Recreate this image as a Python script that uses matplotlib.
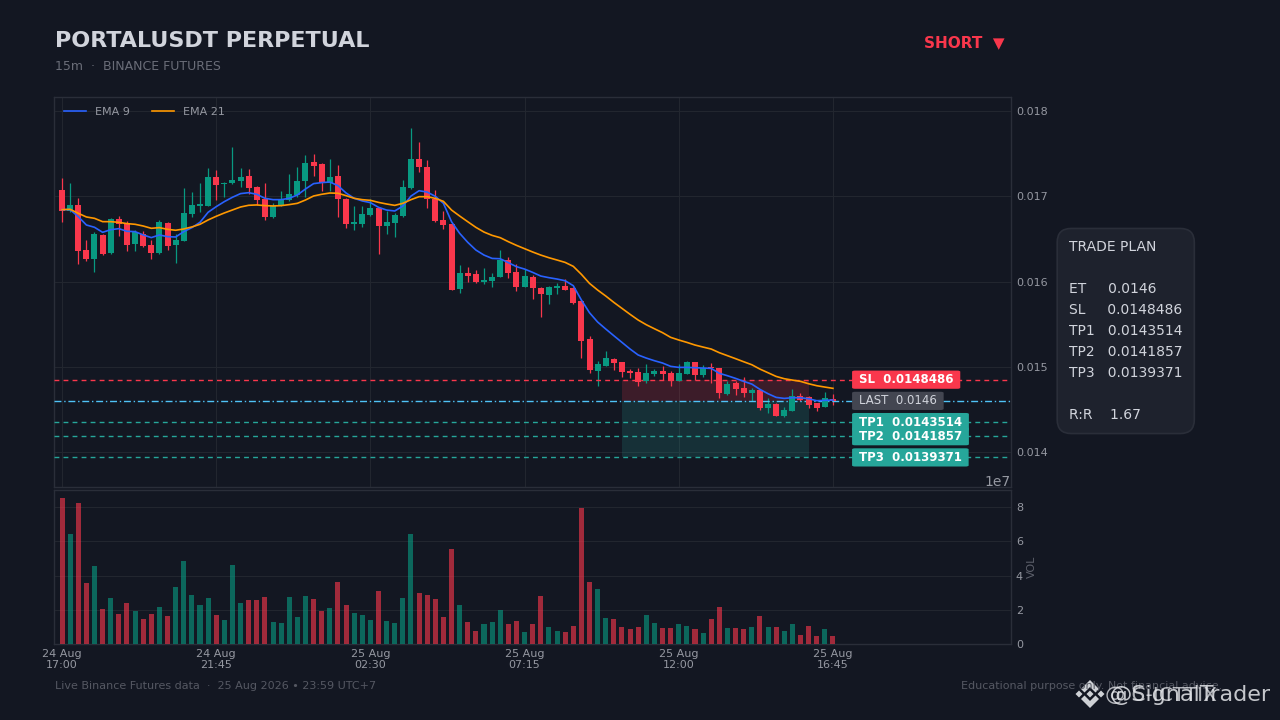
import matplotlib
matplotlib.use("Agg")
import matplotlib.pyplot as plt
from matplotlib.patches import Polygon

# candle values, one entry per 15m bar
opens = [0.017074, 0.016831, 0.016898, 0.016370, 0.016264, 0.016546, 0.016335, 0.016734, 0.016675, 0.016440,
         0.016558, 0.016428, 0.016335, 0.016687, 0.016428, 0.016475, 0.016792, 0.016886, 0.016886, 0.017226,
         0.017144, 0.017152, 0.017179, 0.017238, 0.017109, 0.016968, 0.016757, 0.016898, 0.016956, 0.017015,
         0.017179, 0.017402, 0.017379, 0.017156, 0.017238, 0.016968, 0.016675, 0.016675, 0.016780, 0.016862,
         0.016651, 0.016686, 0.016768, 0.017096, 0.017437, 0.017343, 0.016967, 0.016721, 0.016674, 0.015912,
         0.016099, 0.016088, 0.015994, 0.016005, 0.016052, 0.016252, 0.016111, 0.015935, 0.016052, 0.015923,
         0.015841, 0.015923, 0.015947, 0.015923, 0.015771, 0.015325, 0.014950, 0.015009, 0.015091, 0.015055,
         0.014950, 0.014938, 0.014833, 0.014915, 0.014950, 0.014926, 0.014833, 0.014915, 0.015055, 0.014903,
         0.014993, 0.014985, 0.014680, 0.014809, 0.014750, 0.014692, 0.014727, 0.014516, 0.014563, 0.014422,
         0.014481, 0.014657, 0.014645, 0.014575, 0.014528, 0.014621]
highs = [0.017218, 0.017152, 0.016976, 0.016483, 0.016585, 0.016554, 0.016749, 0.016765, 0.016710, 0.016604,
         0.016593, 0.016483, 0.016718, 0.016702, 0.016554, 0.017093, 0.017046, 0.017152, 0.017336, 0.017312,
         0.017171, 0.017574, 0.017336, 0.017324, 0.017117, 0.017152, 0.016925, 0.017066, 0.017257, 0.017347,
         0.017480, 0.017500, 0.017385, 0.017433, 0.017363, 0.016975, 0.016890, 0.016890, 0.016968, 0.016878,
         0.016827, 0.016799, 0.017186, 0.017800, 0.017640, 0.017425, 0.017069, 0.016830, 0.016680, 0.016197,
         0.016174, 0.016138, 0.016162, 0.016103, 0.016373, 0.016283, 0.016205, 0.016146, 0.016072, 0.015931,
         0.015951, 0.015986, 0.016033, 0.015930, 0.015780, 0.015364, 0.015071, 0.015188, 0.015098, 0.015060,
         0.014969, 0.014985, 0.015036, 0.014977, 0.015012, 0.014950, 0.015036, 0.015071, 0.015060, 0.015016,
         0.015048, 0.014990, 0.014833, 0.014836, 0.014883, 0.014754, 0.014730, 0.014637, 0.014575, 0.014531,
         0.014743, 0.014696, 0.014657, 0.014580, 0.014707, 0.014680]
lows = [0.016694, 0.016812, 0.016202, 0.016241, 0.016108, 0.016310, 0.016319, 0.016530, 0.016358, 0.016358,
        0.016401, 0.016260, 0.016327, 0.016370, 0.016213, 0.016470, 0.016757, 0.016819, 0.016880, 0.016952,
        0.016988, 0.017148, 0.017105, 0.017023, 0.016898, 0.016722, 0.016745, 0.016890, 0.016950, 0.016995,
        0.016995, 0.017242, 0.017062, 0.017062, 0.016761, 0.016624, 0.016601, 0.016636, 0.016769, 0.016319,
        0.016553, 0.016518, 0.016760, 0.017090, 0.017288, 0.016858, 0.016698, 0.016619, 0.015895, 0.015861,
        0.015998, 0.015986, 0.015974, 0.015931, 0.016048, 0.016045, 0.015884, 0.015930, 0.015790, 0.015579,
        0.015732, 0.015849, 0.015896, 0.015740, 0.015106, 0.014923, 0.014770, 0.015005, 0.014958, 0.014876,
        0.014864, 0.014778, 0.014805, 0.014891, 0.014844, 0.014778, 0.014830, 0.014910, 0.014844, 0.014880,
        0.014805, 0.014637, 0.014668, 0.014672, 0.014649, 0.014594, 0.014492, 0.014461, 0.014418, 0.014414,
        0.014477, 0.014594, 0.014516, 0.014477, 0.014524, 0.014551]
closes = [0.016831, 0.016898, 0.016358, 0.016264, 0.016558, 0.016319, 0.016734, 0.016675, 0.016428, 0.016585,
          0.016417, 0.016335, 0.016698, 0.016417, 0.016487, 0.016804, 0.016898, 0.016909, 0.017226, 0.017132,
          0.017160, 0.017191, 0.017226, 0.017097, 0.016952, 0.016757, 0.016886, 0.016956, 0.017027, 0.017179,
          0.017390, 0.017355, 0.017156, 0.017226, 0.016968, 0.016675, 0.016698, 0.016792, 0.016862, 0.016651,
          0.016698, 0.016780, 0.017108, 0.017437, 0.017343, 0.016967, 0.016709, 0.016662, 0.015900, 0.016099,
          0.016064, 0.015994, 0.016017, 0.016052, 0.016252, 0.016099, 0.015935, 0.016064, 0.015923, 0.015853,
          0.015935, 0.015947, 0.015900, 0.015747, 0.015302, 0.014962, 0.015032, 0.015102, 0.015044, 0.014938,
          0.014926, 0.014821, 0.014926, 0.014950, 0.014915, 0.014833, 0.014926, 0.015055, 0.014903, 0.014985,
          0.014981, 0.014692, 0.014797, 0.014739, 0.014692, 0.014727, 0.014516, 0.014563, 0.014422, 0.014492,
          0.014657, 0.014610, 0.014551, 0.014516, 0.014633, 0.014600]
volumes = [8.54, 6.43, 8.25, 3.57, 4.56, 2.05, 2.69, 1.75, 2.40, 1.95, 1.46, 1.75, 2.16, 1.64, 3.33, 4.85,
           2.87, 2.28, 2.69, 1.70, 1.40, 4.62, 2.40, 2.57, 2.57, 2.75, 1.29, 1.23, 2.75, 1.58, 2.81, 2.63,
           1.93, 2.11, 3.63, 2.28, 1.81, 1.70, 1.40, 3.10, 1.35, 1.23, 2.69, 6.43, 2.98, 2.87, 2.63, 1.58,
           5.56, 2.28, 1.29, 0.76, 1.17, 1.29, 1.97, 1.17, 1.35, 0.70, 1.17, 2.81, 0.99, 0.76, 0.70, 1.05,
           7.95, 3.63, 3.22, 1.52, 1.46, 0.99, 0.88, 0.99, 1.70, 1.23, 0.94, 0.94, 1.17, 1.05, 0.88, 0.64,
           1.46, 2.16, 0.94, 0.94, 0.88, 0.99, 1.64, 0.99, 0.99, 0.76, 1.17, 0.53, 1.05, 0.47, 0.88, 0.47]
ema9 = [0.016843, 0.016843, 0.016761, 0.016663, 0.016636, 0.016577, 0.016608, 0.016620, 0.016589, 0.016585,
        0.016546, 0.016515, 0.016546, 0.016526, 0.016522, 0.016585, 0.016632, 0.016694, 0.016812, 0.016878,
        0.016937, 0.016988, 0.017031, 0.017042, 0.017023, 0.016976, 0.016960, 0.016960, 0.016976, 0.017015,
        0.017085, 0.017148, 0.017160, 0.017167, 0.017125, 0.017038, 0.016976, 0.016945, 0.016925, 0.016870,
        0.016838, 0.016827, 0.016885, 0.017002, 0.017065, 0.017049, 0.016999, 0.016917, 0.016701, 0.016565,
        0.016459, 0.016369, 0.016310, 0.016271, 0.016267, 0.016221, 0.016174, 0.016146, 0.016107, 0.016064,
        0.016045, 0.016029, 0.016009, 0.015951, 0.015783, 0.015634, 0.015525, 0.015443, 0.015364, 0.015286,
        0.015208, 0.015138, 0.015102, 0.015071, 0.015044, 0.015005, 0.014993, 0.014993, 0.014989, 0.014985,
        0.014981, 0.014923, 0.014895, 0.014864, 0.014829, 0.014797, 0.014735, 0.014684, 0.014641, 0.014629,
        0.014637, 0.014637, 0.014625, 0.014602, 0.014606, 0.014610]
ema21 = [0.016843, 0.016847, 0.016800, 0.016757, 0.016741, 0.016702, 0.016702, 0.016694, 0.016679, 0.016671,
         0.016651, 0.016624, 0.016632, 0.016612, 0.016601, 0.016616, 0.016640, 0.016671, 0.016722, 0.016765,
         0.016804, 0.016839, 0.016874, 0.016894, 0.016898, 0.016890, 0.016886, 0.016890, 0.016902, 0.016917,
         0.016956, 0.017003, 0.017023, 0.017038, 0.017035, 0.017007, 0.016976, 0.016960, 0.016952, 0.016928,
         0.016909, 0.016893, 0.016917, 0.016960, 0.016995, 0.016995, 0.016975, 0.016940, 0.016838, 0.016768,
         0.016701, 0.016635, 0.016580, 0.016541, 0.016514, 0.016467, 0.016424, 0.016385, 0.016346, 0.016310,
         0.016279, 0.016252, 0.016224, 0.016178, 0.016084, 0.015978, 0.015900, 0.015830, 0.015755, 0.015685,
         0.015615, 0.015548, 0.015493, 0.015446, 0.015400, 0.015345, 0.015314, 0.015286, 0.015255, 0.015231,
         0.015208, 0.015165, 0.015130, 0.015095, 0.015059, 0.015024, 0.014973, 0.014930, 0.014887, 0.014860,
         0.014844, 0.014829, 0.014801, 0.014778, 0.014762, 0.014747]

tick_idx = [0, 19, 38, 57, 76, 95]
tick_labels = ["24 Aug\n17:00", "24 Aug\n21:45", "25 Aug\n02:30", "25 Aug\n07:15", "25 Aug\n12:00", "25 Aug\n16:45"]
price_ticks = [0.014, 0.015, 0.016, 0.017, 0.018]
vol_ticks = [0, 2, 4, 6, 8]

entry = 0.0146
sl = 0.0148486
tp1 = 0.0143514
tp2 = 0.0141857
tp3 = 0.0139371
zone_start = 69
zone_end = 92

BG = "#131722"
GRID = "#22262f"
SPINE = "#2a2e39"
TEXT = "#d1d4dc"
MUTED = "#9598a1"
GREEN = "#089981"
RED = "#f9374c"
TP_GREEN = "#26a69a"

W, H = 1280, 720
fig = plt.figure(figsize=(12.8, 7.2), dpi=100, facecolor=BG)

# layout in pixels
ax = fig.add_axes([54 / W, 1 - 487 / H, 957 / W, 390 / H], facecolor=BG)
ax_v = fig.add_axes([54 / W, 1 - 644 / H, 957 / W, 154 / H], facecolor=BG)

n = len(closes)
xs = list(range(n))
colors = [GREEN if closes[i] >= opens[i] else RED for i in xs]

# candles
ax.vlines(xs, lows, highs, colors=colors, linewidth=0.9, zorder=3)
ax.bar(xs, [abs(closes[i] - opens[i]) for i in xs], bottom=[min(opens[i], closes[i]) for i in xs],
       width=0.74, color=colors, zorder=4)
ax.plot(xs, ema9, color="#2962ff", linewidth=1.2, label="EMA 9", zorder=5)
ax.plot(xs, ema21, color="#ff9800", linewidth=1.2, label="EMA 21", zorder=5)

# trade zones
ax.fill_between([zone_start, zone_end], entry, sl, color=RED, alpha=0.18, linewidth=0, zorder=2)
ax.fill_between([zone_start, zone_end], tp3, entry, color=TP_GREEN, alpha=0.18, linewidth=0, zorder=2)

# level lines
ax.axhline(sl, color=RED, linestyle=(0, (3.5, 3)), linewidth=1, zorder=3)
ax.axhline(entry, color="#4fc3f7", linestyle=(0, (5, 2, 1, 2)), linewidth=1, zorder=3)
for tp in [tp1, tp2, tp3]:
    ax.axhline(tp, color=TP_GREEN, linestyle=(0, (3.5, 3)), linewidth=1, zorder=3)

# level tags
label_x = 98.2
tags = [(sl, "SL  0.0148486", RED, "white", "bold"),
        (entry, "LAST  0.0146", "#434651", TEXT, "normal"),
        (tp1, "TP1  0.0143514", TP_GREEN, "white", "bold"),
        (tp2, "TP2  0.0141857", TP_GREEN, "white", "bold"),
        (tp3, "TP3  0.0139371", TP_GREEN, "white", "bold")]
for y, txt, fc, tc, weight in tags:
    ax.text(label_x, y, txt, color=tc, fontsize=8.5, fontweight=weight, va="center", ha="left", zorder=8,
            bbox=dict(boxstyle="round,pad=0.58,rounding_size=0.25", mutation_aspect=0.38,
                      facecolor=fc, edgecolor="none"))

ax.set_xlim(-0.99, 116.94)
ax.set_ylim(0.01359, 0.018164)
ax.set_yticks(price_ticks)
ax.set_yticklabels(["%.3f" % p for p in price_ticks])
ax.set_xticks(tick_idx)
ax.set_xticklabels([])
ax.yaxis.tick_right()
ax.tick_params(axis="both", length=0, labelsize=8, labelcolor=MUTED, pad=3.5)
ax.grid(True, color=GRID, linewidth=0.8, zorder=0)
ax.set_axisbelow(True)
leg = ax.legend(loc="upper left", ncol=2, frameon=False, fontsize=8, labelcolor=MUTED)

# volume panel
ax_v.bar(xs, [v * 1e7 for v in volumes], width=0.62, color=colors, alpha=0.62, zorder=3)
ax_v.set_xlim(-0.99, 116.94)
ax_v.set_ylim(0, 9.0e7)
ax_v.set_yticks([v * 1e7 for v in vol_ticks])
ax_v.set_xticks(tick_idx)
ax_v.set_xticklabels(tick_labels)
ax_v.yaxis.tick_right()
ax_v.yaxis.set_label_position("right")
ax_v.set_ylabel("VOL", color="#5d606b", fontsize=8, labelpad=3)
ax_v.tick_params(axis="both", length=0, labelsize=8, labelcolor=MUTED, pad=3.5)
ax_v.yaxis.get_offset_text().set_color(MUTED)
ax_v.grid(True, axis="y", color=GRID, linewidth=0.8, zorder=0)
ax_v.set_axisbelow(True)

for a in [ax, ax_v]:
    for s in a.spines.values():
        s.set_color(SPINE)
        s.set_linewidth(1)

# header, footer, trade plan box
def fx(px):
    return px / W

def fy(px):
    return 1 - px / H

fig.text(fx(55), fy(41), "PORTALUSDT PERPETUAL", color=TEXT, fontsize=16, fontweight="bold", va="center")
fig.text(fx(55), fy(66), "15m  ·  BINANCE FUTURES", color="#6a6d78", fontsize=9, va="center")
fig.text(fx(924), fy(43), "SHORT  ▼", color=RED, fontsize=11, fontweight="bold", va="center")
fig.text(fx(55), fy(686), "Live Binance Futures data  ·  25 Aug 2026 • 23:59 UTC+7", color="#555862", fontsize=8, va="center")
fig.text(fx(961), fy(686), "Educational purpose only. Not financial advice.", color="#555862", fontsize=8, va="center", ha="left")

plan = ("TRADE PLAN\n\nET     0.0146\nSL     0.0148486\nTP1   0.0143514\n"
        "TP2   0.0141857\nTP3   0.0139371\n\nR:R    1.67")
fig.text(fx(1069), fy(331), plan, color=TEXT, fontsize=10, va="center", ha="left", linespacing=1.63,
         bbox=dict(boxstyle="round,pad=0.85,rounding_size=1.0", facecolor="#1e222d", edgecolor=SPINE, linewidth=1.2))

# watermark, two overlapping handles and the exchange logo
over = fig.add_axes([0, 0, 1, 1], facecolor="none")
over.set_xlim(0, W)
over.set_ylim(H, 0)
over.axis("off")
cx, cy = 1090, 694
shapes = [[(0, -14), (9, -5), (5.5, -1.5), (0, -7), (-5.5, -1.5), (-9, -5)],
          [(0, 14), (9, 5), (5.5, 1.5), (0, 7), (-5.5, 1.5), (-9, 5)],
          [(0, -3.5), (3.5, 0), (0, 3.5), (-3.5, 0)],
          [(-11, -3.5), (-7.5, 0), (-11, 3.5), (-14.5, 0)],
          [(11, -3.5), (14.5, 0), (11, 3.5), (7.5, 0)]]
for sh in shapes:
    over.add_patch(Polygon([(cx + a, cy + b) for a, b in sh], closed=True, facecolor="#e4e6ea", edgecolor="none", alpha=0.9))
fig.text(fx(1271), fy(695), "@SignalTrader", color="#e4e6ea", alpha=0.85, fontsize=16, va="center", ha="right")
fig.text(fx(1217), fy(695), "@ C-ICTTIX", color="#e4e6ea", alpha=0.75, fontsize=14.5, va="center", ha="right")

fig.savefig("out.png", dpi=100, facecolor=BG)
